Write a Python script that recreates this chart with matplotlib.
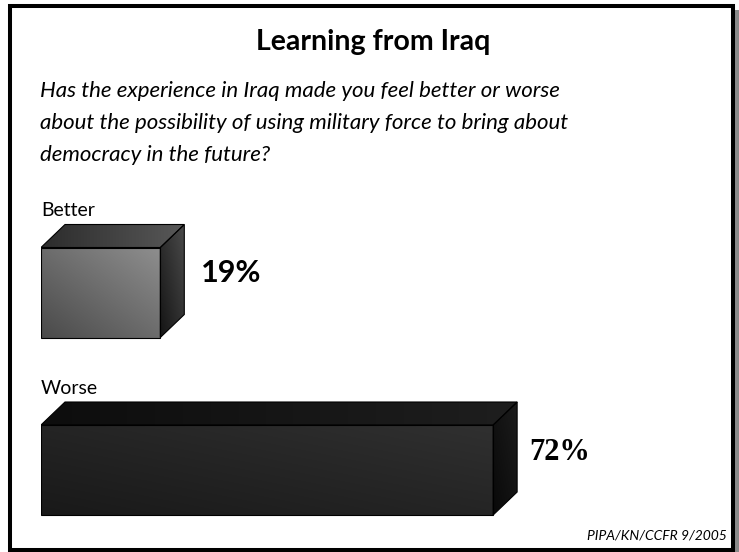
import numpy as np
import matplotlib
matplotlib.use("Agg")
import matplotlib.pyplot as plt
from matplotlib.patches import Rectangle, Polygon
from matplotlib.colors import LinearSegmentedColormap

TITLE = "Learning from Iraq"
QUESTION = [
    "Has the experience in Iraq made you feel better or worse",
    "about the possibility of using military force to bring about",
    "democracy in the future?",
]
SOURCE = "PIPA/KN/CCFR 9/2005"

categories = ["Better", "Worse"]
values = [19, 72]

# front / top / side colours of each box (dark end, light end)
front_colors = [("#4a4a4a", "#8e8e8e"), ("#191919", "#303030")]
top_colors = [("#2c2c2c", "#585858"), ("#0d0d0d", "#1e1e1e")]
side_colors = [("#141414", "#4a4a4a"), ("#090909", "#1c1c1c")]

W, H = 739, 552
SANS = "Lato"

fig = plt.figure(figsize=(W / 100, H / 100), dpi=100)

# full-figure canvas in pixel units, y pointing down
bg = fig.add_axes([0, 0, 1, 1])
bg.set_xlim(0, W)
bg.set_ylim(H, 0)
bg.axis("off")

bg.add_patch(Rectangle((14, 10), W, H, facecolor="#8a8a8a", edgecolor="none"))
bg.add_patch(Rectangle((10, 6), 723, 544, facecolor="white",
                       edgecolor="black", linewidth=2.9))

bg.text(373, 42, TITLE, ha="center", va="center", fontsize=20.5,
        fontweight="bold", family=SANS)
for i, line in enumerate(QUESTION):
    bg.text(40, 91 + 32 * i, line, ha="left", va="center", fontsize=16,
            fontstyle="italic", family=SANS)
bg.text(727, 535, SOURCE, ha="right", va="center", fontsize=10,
        fontstyle="italic", family=SANS)

# bar area: x in percent, y in category slots
ax = fig.add_axes([41 / W, 1 - 541 / H, 628 / W, 355 / H])
ax.set_xlim(0, 100)
ax.set_ylim(1.4, -0.6)
ax.axis("off")
ax.patch.set_alpha(0)

px_x = 628 / 100      # pixels per percent
px_y = 355 / 2.0      # pixels per category slot
dx = 24 / px_x        # box depth
dy = 23 / px_y
bar_h = 90 / px_y


def shade(verts, c0, c1, mode):
    poly = Polygon(verts, closed=True, facecolor="none", edgecolor="black",
                   linewidth=0.8, zorder=3)
    ax.add_patch(poly)
    xs = [v[0] for v in verts]
    ys = [v[1] for v in verts]
    sx, sy = np.meshgrid(np.linspace(0, 1, 80), np.linspace(0, 1, 80))
    if mode == "diag":
        t = (sx + (1 - sy)) / 2
    elif mode == "horiz":
        t = sx
    else:
        t = 1 - sy
    cmap = LinearSegmentedColormap.from_list("box", [c0, c1])
    im = ax.imshow(t, extent=(min(xs), max(xs), max(ys), min(ys)),
                   origin="upper", cmap=cmap, aspect="auto",
                   interpolation="bilinear", zorder=2)
    im.set_clip_path(poly)


bars = ax.barh(range(len(values)), values, height=bar_h, left=0,
               color="none", edgecolor="none")

for i, rect in enumerate(bars.patches):
    x0 = rect.get_x()
    x1 = x0 + rect.get_width()
    y0 = rect.get_y()
    y1 = y0 + rect.get_height()
    shade([(x0, y0), (x1, y0), (x1, y1), (x0, y1)], *front_colors[i], "diag")
    shade([(x0, y0), (x0 + dx, y0 - dy), (x1 + dx, y0 - dy), (x1, y0)],
          *top_colors[i], "horiz")
    shade([(x1, y0), (x1 + dx, y0 - dy), (x1 + dx, y1 - dy), (x1, y1)],
          *side_colors[i], "diag")

    ax.text(0, i - 0.43, categories[i], ha="left", va="baseline",
            fontsize=14, family=SANS)

ax.text(values[0] + dx + 17 / px_x, 0 - 0.11, f"{values[0]}%", ha="left",
        va="center", fontsize=22, fontweight="bold", family=SANS)
ax.text(values[1] + dx + 12 / px_x, 1 - 0.1, f"{values[1]}%", ha="left",
        va="center", fontsize=22, fontweight="bold", family="Liberation Serif")

ax.set_xlim(0, 100)
ax.set_ylim(1.4, -0.6)

fig.savefig("out.png", dpi=100)
